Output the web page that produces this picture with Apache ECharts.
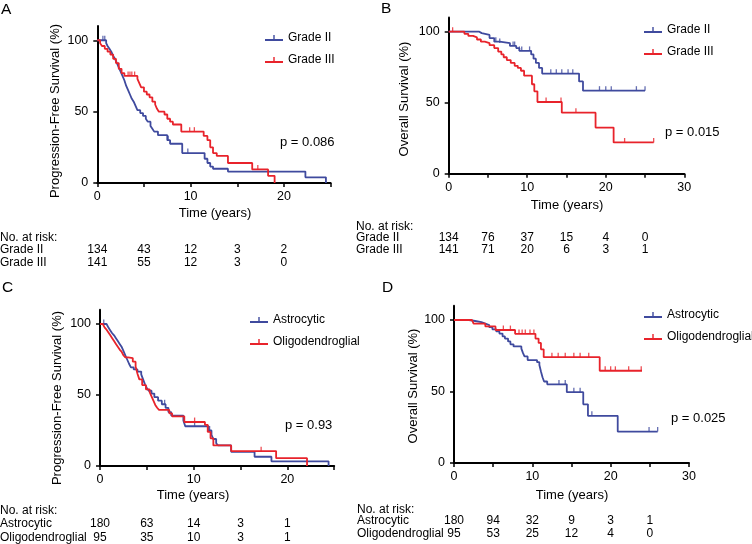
<!DOCTYPE html>
<html><head><meta charset="utf-8">
<script src="https://cdn.jsdelivr.net/npm/echarts@6/dist/echarts.min.js"></script>
<style>html,body{margin:0;padding:0;background:#fff}#c{width:752px;height:544px}</style>
</head><body><div id="c"></div>
<script>
// ---------- DATA ----------
// Kaplan-Meier curves: [time (years), survival (%)]
const pfsGradeII = [[0,100],[0.95,98],[1.1,96],[1.3,94],[1.5,92],[1.7,89],[1.9,87],[2.1,84],[2.3,81],[2.5,78],[2.7,75],[2.9,72],[3.1,68],[3.3,65],[3.5,62],[3.7,59],[3.9,57],[4.1,54],[4.3,51],[4.6,49],[4.9,47],[5.2,45],[5.4,43],[5.7,40],[5.9,38],[6.1,36],[6.5,33.5],[7.5,30],[7.8,27.5],[9.1,21],[11.5,17],[11.8,14],[12.1,11.5],[12.4,10],[14.0,8],[22.3,4],[24.5,0]];
const pfsGradeIII = [[0,100],[0.3,98],[0.5,96],[0.8,94],[1.1,92],[1.4,90],[1.7,87],[2.0,84],[2.3,80],[2.6,77],[2.9,75],[4.3,73],[4.5,70],[4.7,67],[5.0,64],[5.3,62],[5.6,60],[5.9,57],[6.2,55],[6.4,52],[6.6,50],[7.2,48],[7.5,45],[7.8,43],[8.1,41],[9.0,36],[11.4,33],[11.8,30],[12.1,25],[12.4,21],[12.8,19],[14.0,14],[16.6,9.5],[18.3,5],[19.0,0]];
const osGradeII = [[0,100],[3.9,99],[4.2,97.7],[5.2,95.5],[5.8,93],[6.5,92],[7.8,90],[8.6,88.5],[9.0,86.5],[10.5,84],[10.8,81],[11.1,78],[11.5,74.5],[11.9,70.5],[16.6,65],[17.1,58.5],[25.0,58.5]];
const osGradeIII = [[0,100],[2.0,98.5],[2.5,97],[3.1,96],[3.6,94.5],[4.1,93],[4.6,92],[5.2,90.5],[5.8,88.5],[6.3,86],[6.7,84],[7.0,82],[7.4,80],[7.9,78],[8.4,76],[8.8,74.5],[9.2,72.5],[9.6,69],[10.6,63],[10.9,58],[11.3,50.5],[14.4,43],[18.7,32.5],[21.0,22],[26.1,22]];
const pfsAstro = [[0,100],[0.7,99],[0.9,97.5],[1.1,95.5],[1.3,93.5],[1.5,92],[1.7,90],[1.9,88],[2.1,86],[2.3,84],[2.5,81],[2.7,78],[2.9,75],[3.1,72],[3.3,69.5],[3.6,68],[4.0,66.5],[4.4,64.5],[4.6,61],[4.8,57.5],[5.0,55],[5.2,53],[5.5,51],[5.8,48.5],[6.2,46],[6.6,43.5],[7.0,41],[7.3,38],[7.6,35.5],[8.9,32],[9.1,28],[11.6,25],[11.9,22],[12.1,19],[12.4,16],[12.6,14.5],[14.0,10],[16.5,6.5],[18.3,3.3],[24.4,0]];
const pfsOligo = [[0,100],[0.3,99],[0.5,97.5],[0.7,96],[0.9,94],[1.1,92],[1.3,90],[1.5,88],[1.7,86],[1.9,84],[2.1,82],[2.3,80.5],[2.5,78],[2.7,76.5],[3.0,76],[3.5,73.5],[3.8,70],[4.0,65],[4.2,61],[4.5,57],[4.9,54],[5.3,52],[5.5,49],[5.7,46],[5.9,43],[6.1,41],[6.3,39.5],[7.4,37],[7.7,35],[9.0,31],[11.2,29],[11.5,24],[11.8,19.5],[12.1,14.5],[14.0,10.5],[18.8,5.5],[22.1,0]];
const osAstro = [[0,100],[1.9,99.3],[2.7,98.5],[3.5,97.5],[4.0,96.5],[4.5,95],[4.9,93.5],[5.4,92],[5.8,90.5],[6.2,88.5],[6.5,87],[6.9,85],[7.2,83],[7.6,81.5],[8.6,80],[8.8,77],[9.0,74.5],[9.4,72],[10.6,70.5],[10.9,68.5],[11.1,64],[11.3,60],[11.5,57],[11.9,55],[14.4,49.5],[16.5,41],[17.1,33],[20.9,22],[26.0,22]];
const osOligo = [[0,100],[2.3,98.8],[2.5,97.5],[4.0,95.5],[5.3,93],[7.8,90.3],[10.4,87],[10.8,84],[11.1,79.5],[11.45,74],[18.6,64.5],[24.0,64.5]];

// censoring times (years)
const pfsGradeIICensor = [0.6, 0.8, 7.6, 9.7];
const pfsGradeIIICensor = [3.3, 3.5, 3.7, 4.0, 9.9, 10.4, 17.2];
const osGradeIICensor = [6.0, 6.5, 8.2, 8.4, 9.0, 9.3, 10.3, 13.0, 13.7, 14.4, 15.2, 15.8, 19.2, 20.0, 20.7, 23.9, 25.0];
const osGradeIIICensor = [0.5, 12.4, 14.3, 16.2, 22.4, 26.1];
const pfsAstroCensor = [0.4, 6.9, 10.1, 11.7];
const pfsOligoCensor = [10.1, 17.2];
const osAstroCensor = [13.4, 14.2, 15.3, 16.1, 17.6, 24.9, 26.0];
const osOligoCensor = [6.3, 7.2, 8.3, 8.7, 9.1, 9.7, 10.2, 12.5, 13.3, 14.2, 15.3, 16.1, 17.2, 19.3, 20.0, 20.6, 22.3, 23.9];

// numbers at risk
const riskTimesPFS = [0, 5, 10, 15, 20];
const riskTimesOS = [0, 5, 10, 15, 20, 25];
const riskPfsGradeII = [134, 43, 12, 3, 2];
const riskPfsGradeIII = [141, 55, 12, 3, 0];
const riskOsGradeII = [134, 76, 37, 15, 4, 0];
const riskOsGradeIII = [141, 71, 20, 6, 3, 1];
const riskPfsAstro = [180, 63, 14, 3, 1];
const riskPfsOligo = [95, 35, 10, 3, 1];
const riskOsAstro = [180, 94, 32, 9, 3, 1];
const riskOsOligo = [95, 53, 25, 12, 4, 0];

// tick labels
const yTickValues = [0, 50, 100];
const xLabelsPFS = [0, 10, 20];
const xTicksPFS = [0, 5, 10, 15, 20, 25];
const xLabelsOS = [0, 10, 20, 30];
const xTicksOS = [0, 5, 10, 15, 20, 25, 30];

const gradeNames = ['Grade II', 'Grade III'];
const histoNames = ['Astrocytic', 'Oligodendroglial'];
const pValues = ['p = 0.086', 'p = 0.015', 'p = 0.93', 'p = 0.025'];

// ---------- STYLE / LAYOUT ----------
const BLUE = '#3f4a9e', RED = '#e8232b';
const COLORS = [BLUE, RED];
const FONT = '"Liberation Sans", Arial, Helvetica, sans-serif';
const TICK_ICON = 'path://M0,5 L18,5 L18,6.8 L0,6.8 Z M8.3,1 L9.7,1 L9.7,6.8 L8.3,6.8 Z';

const panels = [
  { letter:'A', letterPos:[1,9.5], grid:{left:97.3, top:26, width:233.3, height:157}, xmax:25, xLabels:xLabelsPFS, xTicks:xTicksPFS,
    names:gradeNames, curves:[pfsGradeII, pfsGradeIII], censors:[pfsGradeIICensor, pfsGradeIIICensor],
    yTitle:'Progression-Free Survival (%)', yTitlePos:[55,111], xTitlePos:[215,213], p:pValues[0], pPos:[280,142],
    legend:{left:265, top:32}, riskTimes:riskTimesPFS, risk:[riskPfsGradeII, riskPfsGradeIII], tableLeft:0, tableY:[238,250,263] },
  { letter:'B', letterPos:[381,9], grid:{left:448.7, top:17.5, width:235.6, height:156.2}, xmax:30, xLabels:xLabelsOS, xTicks:xTicksOS,
    names:gradeNames, curves:[osGradeII, osGradeIII], censors:[osGradeIICensor, osGradeIIICensor],
    yTitle:'Overall Survival (%)', yTitlePos:[404,99], xTitlePos:[567,205], p:pValues[1], pPos:[665,132],
    legend:{left:644, top:24}, riskTimes:riskTimesOS, risk:[riskOsGradeII, riskOsGradeIII], tableLeft:356, tableY:[227,238,250] },
  { letter:'C', letterPos:[2,287.5], grid:{left:100, top:309.8, width:234.2, height:156.2}, xmax:25, xLabels:xLabelsPFS, xTicks:xTicksPFS,
    names:histoNames, curves:[pfsAstro, pfsOligo], censors:[pfsAstroCensor, pfsOligoCensor],
    yTitle:'Progression-Free Survival (%)', yTitlePos:[57,398], xTitlePos:[193,495], p:pValues[2], pPos:[285,425],
    legend:{left:250, top:314}, riskTimes:riskTimesPFS, risk:[riskPfsAstro, riskPfsOligo], tableLeft:0, tableY:[511,524,538] },
  { letter:'D', letterPos:[382,287.5], grid:{left:454, top:305.7, width:235, height:157.3}, xmax:30, xLabels:xLabelsOS, xTicks:xTicksOS,
    names:histoNames, curves:[osAstro, osOligo], censors:[osAstroCensor, osOligoCensor],
    yTitle:'Overall Survival (%)', yTitlePos:[413,386], xTitlePos:[572,495], p:pValues[3], pPos:[671,418],
    legend:{left:644, top:309}, riskTimes:riskTimesOS, risk:[riskOsAstro, riskOsOligo], tableLeft:357, tableY:[510,521,534] }
];

function stepValue(curve, t) {
  let v = curve[0][1];
  for (const p of curve) { if (p[0] <= t + 1e-9) v = p[1]; else break; }
  return v;
}

const grids = [], xAxes = [], yAxes = [], series = [], legends = [];
panels.forEach((P, i) => {
  grids.push(Object.assign({containLabel:false}, P.grid));
  xAxes.push({ type:'value', gridIndex:i, min:0, max:P.xmax, interval:5,
    axisLine:{show:true, onZero:false, lineStyle:{color:'#000', width:2}},
    axisTick:{show:true, length:4, customValues:P.xTicks, lineStyle:{color:'#000', width:1.5}},
    axisLabel:{customValues:P.xLabels, color:'#000', fontSize:12.5, fontFamily:FONT, margin:7},
    splitLine:{show:false} });
  yAxes.push({ type:'value', gridIndex:i, min:0, max:110,
    axisLine:{show:true, onZero:false, lineStyle:{color:'#000', width:2}},
    axisTick:{show:true, length:4, customValues:yTickValues, lineStyle:{color:'#000', width:1.5}},
    axisLabel:{customValues:yTickValues, color:'#000', fontSize:12.5, fontFamily:FONT, margin:9},
    splitLine:{show:false} });
  P.curves.forEach((c, k) => {
    series.push({ type:'line', name:P.names[k], xAxisIndex:i, yAxisIndex:i, data:c, step:'end',
      symbol:'none', showSymbol:false, animation:false, z:2+k,
      lineStyle:{color:COLORS[k], width:1.8}, itemStyle:{color:COLORS[k]} });
    series.push({ type:'scatter', name:P.names[k], xAxisIndex:i, yAxisIndex:i,
      data:P.censors[k].map(t => [t, stepValue(c, t)]),
      symbol:'rect', symbolSize:[1.3, 4.5], symbolOffset:[0, -2.2], animation:false, z:2+k,
      itemStyle:{color:COLORS[k]} });
  });
  legends.push({ orient:'vertical', left:P.legend.left, top:P.legend.top, padding:0,
    itemWidth:18, itemHeight:6, itemGap:10, icon:TICK_ICON, selectedMode:false,
    textStyle:{color:'#000', fontSize:12, fontFamily:FONT},
    data:P.names.map((n, k) => ({name:n, itemStyle:{color:COLORS[k]}})) });
});

const chart = echarts.init(document.getElementById('c'), null, {renderer:'canvas'});
chart.setOption({ animation:false, backgroundColor:'#fff', grid:grids, xAxis:xAxes, yAxis:yAxes, series:series, legend:legends });

function txt(x, y, s, size, align, extra) {
  return Object.assign({ type:'text', x:x, y:y, silent:true,
    style:{ text:s, fill:'#000', font:size + 'px ' + FONT, align:align || 'left', verticalAlign:'middle' } }, extra || {});
}
const g = [];
panels.forEach((P, i) => {
  g.push(txt(P.letterPos[0], P.letterPos[1], P.letter, 15.5, 'left'));
  g.push(txt(P.yTitlePos[0], P.yTitlePos[1], P.yTitle, 13, 'center', {rotation:Math.PI/2}));
  g.push(txt(P.xTitlePos[0], P.xTitlePos[1], 'Time (years)', 13, 'center'));
  g.push(txt(P.pPos[0], P.pPos[1], P.p, 13, 'left'));
  g.push(txt(P.tableLeft, P.tableY[0], 'No. at risk:', 12, 'left'));
  P.names.forEach((n, k) => {
    g.push(txt(P.tableLeft, P.tableY[k+1], n, 12, 'left'));
    P.riskTimes.forEach((t, j) => {
      const px = chart.convertToPixel({xAxisIndex:i}, t);
      g.push(txt(px, P.tableY[k+1], String(P.risk[k][j]), 12, 'center'));
    });
  });
});
chart.setOption({ graphic:{ elements:g } });
</script></body></html>
